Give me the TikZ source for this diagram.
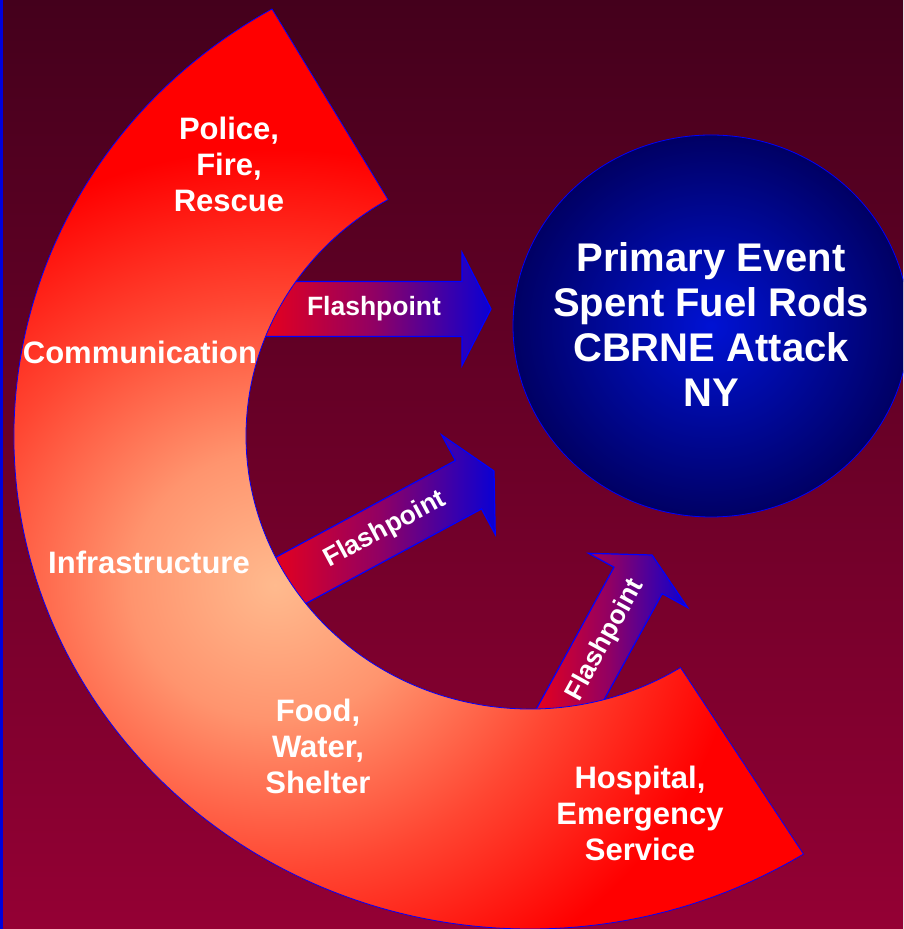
\documentclass[tikz,border=0pt]{standalone}
\usepackage{fontspec}
\setmainfont{Liberation Sans}
\usepackage{tikz}

\definecolor{bgtop}{RGB}{68,0,28}
\definecolor{bgbottom}{RGB}{148,0,52}
\definecolor{ringA}{RGB}{255,186,142}
\definecolor{ringB}{RGB}{255,148,110}
\definecolor{ringC}{RGB}{255,70,50}
\definecolor{ringD}{RGB}{255,0,0}
\definecolor{evlight}{RGB}{0,18,212}
\definecolor{evdark}{RGB}{0,0,100}
\definecolor{flred}{RGB}{235,0,25}
\definecolor{flmid}{RGB}{144,0,100}
\definecolor{flblue}{RGB}{10,0,212}
\definecolor{edge}{RGB}{0,0,255}
\definecolor{strip}{RGB}{0,0,220}

\pgfdeclareradialshading{ringshade}{\pgfpoint{0bp}{0bp}}{%
  color(0bp)=(ringA); color(4bp)=(ringB); color(8.5bp)=(ringC);
  color(13bp)=(ringD); color(50bp)=(ringD)}

\tikzset{
  ringlabel/.style={text=white, align=center, font=\fontsize{31}{36}\selectfont\bfseries},
  flasharrow/.style={left color=flred, right color=flblue, middle color=flmid,
    draw=edge, line width=1.2pt},
  flashlabel/.style={text=white, transform shape, font=\fontsize{26.5}{30}\selectfont\bfseries},
  eventdisc/.style={inner color=evlight, outer color=evdark, draw=edge, line width=0.8pt},
  eventtext/.style={text=white, align=center, font=\fontsize{40}{45}\selectfont\bfseries}
}

\begin{document}
\begin{tikzpicture}[x=1pt,y=1pt]
  \useasboundingbox (0,0) rectangle (903,929);
  \clip (0,0) rectangle (903,929);
  % background
  \shade[top color=bgtop, bottom color=bgbottom] (0,0) rectangle (903,929);
  \fill[strip] (0,0) rectangle (3,929);

  % flashpoint arrows (under the ring)
  \begin{scope}[shift={(491,620)}]
    \shade[flasharrow] (0,0) -- (-29,56.5) -- (-29,27.5) -- (-233,27.5)
      -- (-233,-27.5) -- (-29,-27.5) -- (-29,-56.5) -- cycle;
    \node[flashlabel] (flash1) at (-117,0) {Flashpoint};
  \end{scope}
  \begin{scope}[shift={(494,458)}, rotate=28.3]
    \shade[flasharrow] (0,0) -- (-29,56.5) -- (-29,27.5) -- (-245,27.5)
      -- (-245,-27.5) -- (-29,-27.5) -- (-29,-56.5) -- cycle;
    \node[flashlabel] (flash2) at (-124,0) {Flashpoint};
  \end{scope}
  \begin{scope}[shift={(652,374)}, rotate=61.3]
    \shade[flasharrow] (0,0) -- (-29,56.5) -- (-29,27.5) -- (-200,27.5)
      -- (-200,-27.5) -- (-29,-27.5) -- (-29,-56.5) -- cycle;
    \node[flashlabel] (flash3) at (-97,0) {Flashpoint};
  \end{scope}

  % the ring
  \coordinate (c) at (530,493);
  \path[draw=edge, line width=0.8pt,
        path picture={\shade[shading=ringshade, shift={(275,344)}, rotate=-40, xscale=1.35]
                        (0,0) circle (650);}]
    (c) ++(120:516 and 493) arc[start angle=120, end angle=302, x radius=516, y radius=493]
    -- ([shift={(302:284 and 273)}]c)
    arc[start angle=302, end angle=120, x radius=284, y radius=273] -- cycle;

  \node[ringlabel] (police) at (229,765) {Police,\\Fire,\\Rescue};
  \node[ringlabel] (comm) at (140,577) {Communication};
  \node[ringlabel] (infra) at (149,367) {Infrastructure};
  \node[ringlabel] (food) at (318,183) {Food,\\Water,\\Shelter};
  \node[ringlabel] (hosp) at (640,116) {Hospital,\\Emergency\\Service};

  % primary event
  \shade[eventdisc] (711,603) ellipse [x radius=198, y radius=191];
  \node[eventtext] (event) at (711,604) {Primary Event\\Spent Fuel Rods\\CBRNE Attack\\NY};
\end{tikzpicture}
\end{document}
